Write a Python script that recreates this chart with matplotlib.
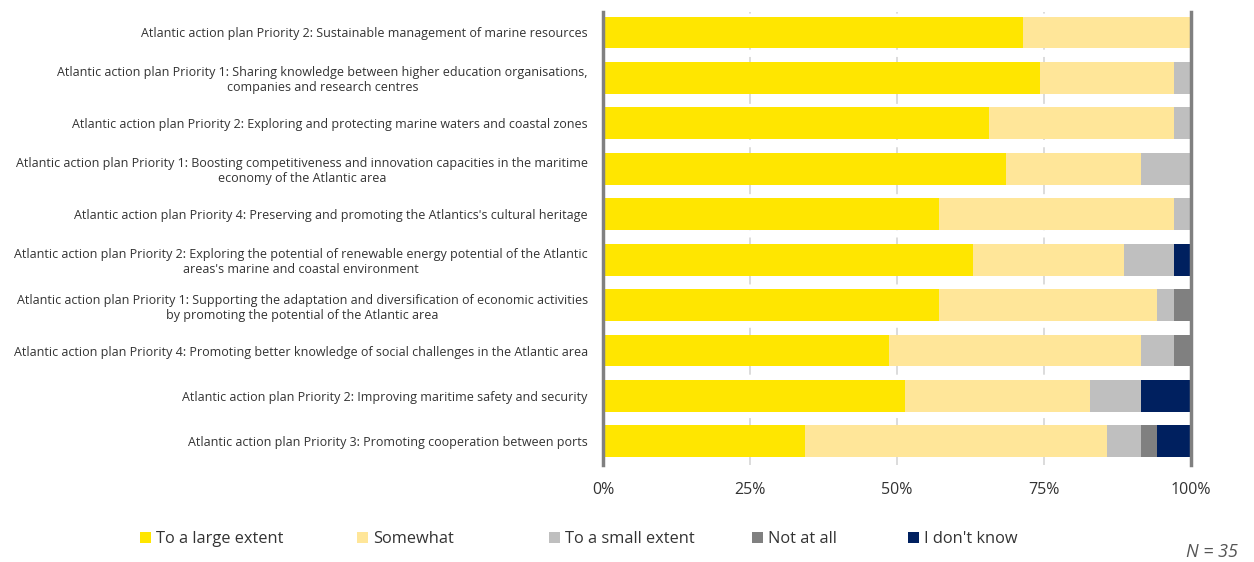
import matplotlib
matplotlib.use("Agg")
import matplotlib.pyplot as plt
from matplotlib.patches import Patch
import numpy as np

plt.rcParams['font.family'] = ['Open Sans', 'DejaVu Sans']

categories = [
    "Atlantic action plan Priority 2: Sustainable management of marine resources",
    "Atlantic action plan Priority 1: Sharing knowledge between higher education organisations,\ncompanies and research centres",
    "Atlantic action plan Priority 2: Exploring and protecting marine waters and coastal zones",
    "Atlantic action plan Priority 1: Boosting competitiveness and innovation capacities in the maritime\neconomy of the Atlantic area",
    "Atlantic action plan Priority 4: Preserving and promoting the Atlantics's cultural heritage",
    "Atlantic action plan Priority 2: Exploring the potential of renewable energy potential of the Atlantic\nareas's marine and coastal environment",
    "Atlantic action plan Priority 1: Supporting the adaptation and diversification of economic activities\nby promoting the potential of the Atlantic area",
    "Atlantic action plan Priority 4: Promoting better knowledge of social challenges in the Atlantic area",
    "Atlantic action plan Priority 2: Improving maritime safety and security",
    "Atlantic action plan Priority 3: Promoting cooperation between ports",
]

n_respondents = 35
large_extent = [25, 26, 23, 24, 20, 22, 20, 17, 18, 12]
somewhat     = [10,  8, 11,  8, 14,  9, 13, 15, 11, 18]
small_extent = [ 0,  1,  1,  3,  1,  3,  1,  2,  3,  2]
not_at_all   = [ 0,  0,  0,  0,  0,  0,  1,  1,  0,  1]
dont_know    = [ 0,  0,  0,  0,  0,  1,  0,  0,  3,  2]

series_names = ["To a large extent", "Somewhat", "To a small extent", "Not at all", "I don't know"]
series_colors = ["#FFE600", "#FFE699", "#BFBFBF", "#808080", "#00205F"]
tick_labels = ["0%", "25%", "50%", "75%", "100%"]

series = [large_extent, somewhat, small_extent, not_at_all, dont_know]
text_color = "#333333"

fig = plt.figure(figsize=(12.54, 5.62), dpi=100)
ax = fig.add_axes([603 / 1254, 1 - 465 / 562, 588 / 1254, (465 - 12) / 562])

y = np.arange(len(categories))
left = np.zeros(len(categories))
for vals, color in zip(series, series_colors):
    share = np.array(vals) / n_respondents
    ax.barh(y, share, left=left, height=0.7, color=color, edgecolor='none', zorder=2)
    left += share

ax.set_xlim(0, 1)
ax.set_ylim(len(categories) - 0.5 + 0.02, -0.45)
ax.set_yticks(y)
ax.set_yticklabels(categories, fontsize=9, color=text_color, multialignment='center')
ax.tick_params(axis='y', length=0, pad=11)

ax.set_xticks([0, 0.25, 0.5, 0.75, 1.0])
ax.set_xticklabels(tick_labels, fontsize=11.5, color=text_color)
ax.tick_params(axis='x', length=0, pad=12)

for xv in [0.25, 0.5, 0.75]:
    ax.axvline(xv, color="#D9D9D9", lw=1.3, ls=(0, (6, 4)), zorder=1)

for side in ['top', 'bottom']:
    ax.spines[side].set_visible(False)
for side in ['left', 'right']:
    ax.spines[side].set_color("#808080")
    ax.spines[side].set_linewidth(2.5)
    ax.spines[side].set_zorder(3)

legend_x = [140 / 1254, 357 / 1254, 549 / 1254, 752 / 1254, 908 / 1254]
for name, color, lx in zip(series_names, series_colors, legend_x):
    fig.legend(handles=[Patch(facecolor=color, edgecolor='none', label=name)],
               loc='center left', bbox_to_anchor=(lx, 1 - 539 / 562),
               frameon=False, fontsize=11.8, handlelength=0.65, handleheight=0.65,
               handletextpad=0.35, borderaxespad=0, borderpad=0,
               labelcolor=text_color)

fig.text(1212 / 1254, 1 - 552 / 562, "N = 35", fontsize=13, style='italic',
         color="#555555", ha='center', va='center')

fig.savefig("out.png", dpi=100)
